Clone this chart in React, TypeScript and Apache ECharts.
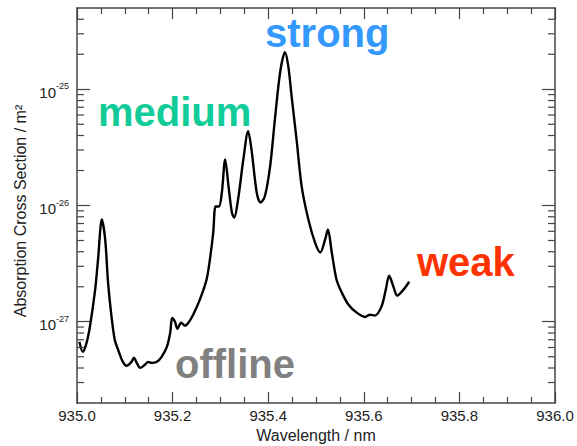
import React, { useEffect, useRef } from "react";
import * as echarts from "echarts";

// Wavelength samples (nm)
const wavelength = [
  935.005, 935.012, 935.02, 935.027, 935.038, 935.044, 935.052, 935.059, 935.065, 935.073,
  935.079, 935.086, 935.096, 935.104, 935.114, 935.119, 935.125, 935.132, 935.142, 935.149,
  935.156, 935.167, 935.177, 935.188, 935.195, 935.199, 935.205, 935.21, 935.218, 935.226,
  935.233, 935.243, 935.257, 935.271, 935.278, 935.285, 935.29, 935.297, 935.303, 935.31,
  935.317, 935.324, 935.329, 935.337, 935.348, 935.358, 935.365, 935.376, 935.384, 935.393,
  935.404, 935.414, 935.425, 935.435, 935.442, 935.449, 935.46, 935.47, 935.484, 935.498,
  935.509, 935.519, 935.525, 935.533, 935.543, 935.554, 935.568, 935.585, 935.603, 935.613,
  935.623, 935.637, 935.646, 935.653, 935.662, 935.67, 935.683, 935.695,
];

// Absorption cross section (m^2)
const crossSection = [
  6.73e-28, 5.51e-28, 6.59e-28, 9.05e-28, 1.89e-27, 3.42e-27, 7.57e-27, 5.09e-27, 2.17e-27, 1.04e-27,
  7.0e-28, 5.74e-28, 4.52e-28, 4.18e-28, 4.52e-28, 4.9e-28, 4.43e-28, 4.01e-28, 4.26e-28, 4.52e-28,
  4.43e-28, 4.52e-28, 4.99e-28, 6.08e-28, 8.03e-28, 1.08e-27, 1.0e-27, 8.71e-28, 9.8e-28, 9.24e-28,
  9.8e-28, 1.15e-27, 1.55e-27, 2.3e-27, 3.42e-27, 5.85e-27, 9.8e-27, 9.8e-27, 1.29e-26, 2.49e-26,
  1.46e-26, 8.71e-27, 7.88e-27, 1.13e-26, 2.49e-26, 4.35e-26, 3.04e-26, 1.29e-26, 1.06e-26, 1.2e-26,
  2.17e-26, 5.51e-26, 1.4e-25, 2.08e-25, 1.58e-25, 8.7e-26, 3.49e-26, 1.46e-26, 7.57e-27, 4.8e-27,
  3.94e-27, 5.09e-27, 6.21e-27, 3.94e-27, 2.3e-27, 1.78e-27, 1.4e-27, 1.2e-27, 1.1e-27, 1.15e-27,
  1.13e-27, 1.35e-27, 1.89e-27, 2.49e-27, 2.0e-27, 1.68e-27, 1.89e-27, 2.21e-27,
];

// Axis ranges
const xRange = [935.0, 936.0];
const yRange = [2e-28, 5e-25];

// Minor tick positions on the log axis: 2..9 x 10^n
const minorMultipliers = [2, 3, 4, 5, 6, 7, 8, 9];
const decades = [-28, -27, -26, -25];

// Band labels
const bandLabels = ["strong", "medium", "weak", "offline"];
const yAxisTitle = "Absorption Cross Section / m²";

const FONT = "'Liberation Sans', Arial, Helvetica, sans-serif";
const AXIS_COLOR = "#444";

export default function App() {
  const ref = useRef<HTMLDivElement>(null);

  useEffect(() => {
    if (!ref.current) return;
    const chart = echarts.init(ref.current, undefined, { renderer: "svg" });

    const lineData = wavelength.map((w, i) => [w, crossSection[i]]);
    const minorValues: number[] = [];
    decades.forEach((d) =>
      minorMultipliers.forEach((m) => {
        const v = m * Math.pow(10, d);
        if (v > yRange[0] && v < yRange[1]) minorValues.push(v);
      })
    );

    const isPow10 = (v: number) => {
      const e = Math.round(Math.log10(v));
      return Math.abs(v / Math.pow(10, e) - 1) < 1e-6 ? e : null;
    };

    const xAxisBase = {
      type: "value",
      min: xRange[0],
      max: xRange[1],
      interval: 0.2,
      splitLine: { show: false },
      axisLine: { show: true, onZero: false, lineStyle: { color: AXIS_COLOR, width: 1.5 } },
      axisTick: { show: true, inside: true, length: 11, lineStyle: { color: AXIS_COLOR, width: 1.2 } },
      minorTick: { show: true, splitNumber: 4, length: 6, lineStyle: { color: AXIS_COLOR, width: 1.2 } },
    };

    const yAxisBase = {
      type: "log",
      logBase: 10,
      min: yRange[0],
      max: yRange[1],
      splitLine: { show: false },
      axisLine: { show: true, onZero: false, lineStyle: { color: AXIS_COLOR, width: 1.5 } },
      axisTick: { show: true, inside: true, length: 13, lineStyle: { color: AXIS_COLOR, width: 1.2 } },
    };

    const labelGraphics = [
      {
        type: "text",
        id: "ytitle",
        x: 20,
        y: 211,
        rotation: Math.PI / 2,
        style: { text: yAxisTitle, fill: "#222", font: `16px ${FONT}`, align: "center", verticalAlign: "middle" },
      },
      { type: "text", id: "b0", x: 265, y: 33, style: { text: bandLabels[0], fill: "#3399ff", font: `bold 40px ${FONT}`, verticalAlign: "middle" } },
      { type: "text", id: "b1", x: 98, y: 112, style: { text: bandLabels[1], fill: "#11cc99", font: `bold 40px ${FONT}`, verticalAlign: "middle" } },
      { type: "text", id: "b2", x: 417, y: 262, style: { text: bandLabels[2], fill: "#ff3300", font: `bold 40px ${FONT}`, verticalAlign: "middle" } },
      { type: "text", id: "b3", x: 175, y: 364, style: { text: bandLabels[3], fill: "#808080", font: `bold 40px ${FONT}`, verticalAlign: "middle" } },
    ];

    chart.setOption({
      animation: false,
      backgroundColor: "#fff",
      grid: {
        left: 77,
        right: 22,
        top: 8,
        bottom: 43,
        show: false,
        containLabel: false,
        outerBoundsMode: "none",
      },
      xAxis: [
        {
          ...xAxisBase,
          position: "bottom",
          name: "Wavelength / nm",
          nameLocation: "middle",
          nameGap: 23,
          nameTextStyle: { fontFamily: FONT, fontSize: 16, color: "#222" },
          axisLabel: {
            fontFamily: FONT,
            fontSize: 15,
            color: "#222",
            margin: 5,
            formatter: (v: number) => v.toFixed(1),
          },
        },
        { ...xAxisBase, position: "top", axisLabel: { show: false } },
      ],
      yAxis: [
        {
          ...yAxisBase,
          position: "left",
          axisLabel: {
            margin: 8,
            formatter: (v: number) => {
              const e = isPow10(v);
              return e === null ? "" : `{b|10}{s|${e}}`;
            },
            rich: {
              b: { fontFamily: FONT, fontSize: 15, color: "#222", padding: [6, 0, 0, 0] },
              s: { fontFamily: FONT, fontSize: 9, color: "#222", padding: [0, 0, 6, 0] },
            },
          },
        },
        { ...yAxisBase, position: "right", axisLabel: { show: false } },
      ],
      series: [
        {
          type: "line",
          data: lineData,
          xAxisIndex: 0,
          yAxisIndex: 0,
          showSymbol: false,
          smooth: 0.3,
          lineStyle: { color: "#000", width: 2.4 },
          silent: true,
        },
      ],
      graphic: labelGraphics,
    });

    // Minor log ticks on both frame sides, placed through the y axis scale
    const xLeft = chart.convertToPixel({ xAxisIndex: 0 }, xRange[0]) as number;
    const xRight = chart.convertToPixel({ xAxisIndex: 0 }, xRange[1]) as number;
    const tickStyle = { stroke: AXIS_COLOR, lineWidth: 1.2 };
    const tickGraphics: any[] = [];
    minorValues.forEach((v, i) => {
      const y = chart.convertToPixel({ yAxisIndex: 0 }, v) as number;
      tickGraphics.push({
        type: "line",
        id: `mtl${i}`,
        silent: true,
        z: 10,
        shape: { x1: xLeft, y1: y, x2: xLeft + 7, y2: y },
        style: tickStyle,
      });
      tickGraphics.push({
        type: "line",
        id: `mtr${i}`,
        silent: true,
        z: 10,
        shape: { x1: xRight - 7, y1: y, x2: xRight, y2: y },
        style: tickStyle,
      });
    });
    chart.setOption({ graphic: [...labelGraphics, ...tickGraphics] });

    return () => chart.dispose();
  }, []);

  return (
    <div
      ref={ref}
      style={{ position: "fixed", left: 0, top: 0, width: 577, height: 446, background: "#fff" }}
    />
  );
}
